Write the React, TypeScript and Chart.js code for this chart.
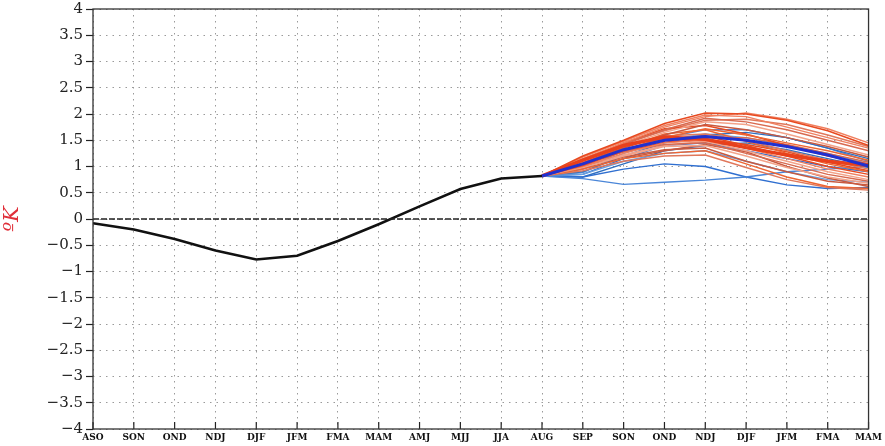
import React, { useEffect, useRef } from "react";
import { Chart, registerables } from "chart.js";

Chart.register(...registerables);

const categories = ["ASO", "SON", "OND", "NDJ", "DJF", "JFM", "FMA", "MAM", "AMJ", "MJJ", "JJA", "AUG", "SEP", "SON", "OND", "NDJ", "DJF", "JFM", "FMA", "MAM"];

const observed = [-0.08, -0.2, -0.38, -0.6, -0.77, -0.7, -0.42, -0.1, 0.24, 0.57, 0.77, 0.82];

// forecast members start at AUG (index 11): AUG..MAM
const forecastStart = 11;

const redMembers = [
  [0.82, 1.2, 1.5, 1.82, 2.02, 2.0, 1.88, 1.68, 1.4],
  [0.82, 1.15, 1.45, 1.75, 1.95, 2.02, 1.9, 1.72, 1.45],
  [0.82, 1.12, 1.42, 1.7, 1.92, 1.85, 1.7, 1.5, 1.3],
  [0.82, 1.1, 1.4, 1.65, 1.85, 1.8, 1.62, 1.42, 1.22],
  [0.82, 1.08, 1.35, 1.6, 1.8, 1.7, 1.55, 1.38, 1.18],
  [0.82, 1.05, 1.32, 1.55, 1.72, 1.6, 1.45, 1.3, 1.12],
  [0.82, 1.1, 1.38, 1.58, 1.62, 1.5, 1.3, 1.12, 0.95],
  [0.82, 1.02, 1.3, 1.52, 1.58, 1.4, 1.2, 1.0, 0.85],
  [0.82, 1.0, 1.25, 1.45, 1.5, 1.35, 1.15, 0.95, 0.8],
  [0.82, 1.05, 1.28, 1.42, 1.45, 1.25, 1.05, 0.85, 0.72],
  [0.82, 0.98, 1.2, 1.38, 1.4, 1.2, 0.98, 0.8, 0.68],
  [0.82, 1.0, 1.18, 1.32, 1.35, 1.1, 0.9, 0.72, 0.65],
  [0.82, 0.95, 1.15, 1.25, 1.3, 1.05, 0.8, 0.62, 0.58],
  [0.82, 0.92, 1.1, 1.2, 1.22, 0.98, 0.75, 0.6, 0.55],
  [0.82, 1.12, 1.45, 1.72, 1.78, 1.62, 1.4, 1.2, 1.05],
  [0.82, 1.18, 1.48, 1.78, 1.98, 1.95, 1.75, 1.55, 1.35],
  [0.82, 1.06, 1.3, 1.5, 1.55, 1.55, 1.42, 1.25, 1.08],
  [0.82, 1.02, 1.22, 1.4, 1.48, 1.3, 1.1, 0.9, 0.75],
  [0.82, 0.96, 1.15, 1.3, 1.42, 1.28, 1.0, 0.78, 0.62],
  [0.82, 1.08, 1.36, 1.62, 1.7, 1.48, 1.25, 1.05, 0.9],
  [0.82, 1.14, 1.44, 1.68, 1.88, 1.9, 1.8, 1.6, 1.38],
  [0.82, 1.04, 1.28, 1.46, 1.52, 1.42, 1.28, 1.08, 0.92],
];

const blueMembers = [
  [0.82, 0.77, 0.66, 0.7, 0.74, 0.8, 0.9, 0.95, 1.0],
  [0.82, 0.8, 0.95, 1.05, 1.0, 0.8, 0.65, 0.58, 0.6],
  [0.82, 0.85, 1.1, 1.25, 1.3, 1.1, 0.9, 0.75, 0.7],
  [0.82, 0.9, 1.2, 1.45, 1.6, 1.65, 1.55, 1.35, 1.15],
  [0.82, 0.95, 1.3, 1.55, 1.7, 1.7, 1.55, 1.35, 1.1],
  [0.82, 0.85, 1.15, 1.4, 1.45, 1.3, 1.15, 1.0, 0.9],
  [0.82, 0.88, 1.25, 1.5, 1.62, 1.55, 1.4, 1.25, 1.05],
  [0.82, 0.8, 1.05, 1.3, 1.4, 1.45, 1.32, 1.15, 0.98],
];

const redMean = [0.82, 1.12, 1.4, 1.56, 1.52, 1.36, 1.22, 1.1, 1.02];
const blueMean = [0.82, 1.05, 1.32, 1.5, 1.57, 1.5, 1.38, 1.22, 1.01];

const redColors = ["#e84a20", "#f08060", "#d86a50", "#f3a38a", "#c85a40", "#ee6633", "#e0785c"];
const blueColors = ["#4a86d8", "#2f6fd0", "#6aa0e0", "#3070c0"];

const yTicks = { min: -4, max: 4, step: 0.5 };

function pad(values: number[]): (number | null)[] {
  const out: (number | null)[] = categories.map(() => null);
  values.forEach((v, i) => {
    out[forecastStart + i] = v;
  });
  return out;
}

const framePlugin = {
  id: "frame",
  afterDatasetsDraw(chart: any) {
    const { ctx, chartArea } = chart;
    const x = chart.scales.x;
    const y = chart.scales.y;
    ctx.save();
    // zero line
    ctx.strokeStyle = "#222";
    ctx.lineWidth = 1.3;
    ctx.setLineDash([6, 2]);
    const y0 = y.getPixelForValue(0);
    ctx.beginPath();
    ctx.moveTo(chartArea.left, y0);
    ctx.lineTo(chartArea.right, y0);
    ctx.stroke();
    ctx.setLineDash([]);
    // inward x ticks
    ctx.lineWidth = 1.2;
    for (let i = 0; i < categories.length; i++) {
      const px = x.getPixelForValue(i);
      ctx.beginPath();
      ctx.moveTo(px, chartArea.bottom);
      ctx.lineTo(px, chartArea.bottom - 7);
      ctx.stroke();
    }
    // frame
    ctx.strokeStyle = "#333";
    ctx.lineWidth = 1.3;
    ctx.strokeRect(chartArea.left, chartArea.top, chartArea.right - chartArea.left, chartArea.bottom - chartArea.top);
    ctx.restore();
  },
};

export default function App() {
  const ref = useRef<HTMLCanvasElement | null>(null);
  useEffect(() => {
    document.body.style.margin = "0";
    if (!ref.current) return;
    const datasets: any[] = [];
    datasets.push({
      data: observed,
      borderColor: "#111",
      borderWidth: 2.6,
      pointRadius: 0,
      tension: 0,
    });
    datasets.push({
      data: pad(blueMean),
      borderColor: "#2030d0",
      borderWidth: 3,
      pointRadius: 0,
    });
    datasets.push({
      data: pad(redMean),
      borderColor: "#e8401c",
      borderWidth: 3.5,
      pointRadius: 0,
    });
    redMembers.forEach((m, i) => {
      datasets.push({
        data: pad(m),
        borderColor: redColors[i % redColors.length],
        borderWidth: 1.5,
        pointRadius: 0,
      });
    });
    blueMembers.forEach((m, i) => {
      datasets.push({
        data: pad(m),
        borderColor: blueColors[i % blueColors.length],
        borderWidth: 1.4,
        pointRadius: 0,
      });
    });

    const chart = new Chart(ref.current, {
      type: "line",
      data: { labels: categories, datasets },
      plugins: [framePlugin],
      options: {
        animation: false,
        responsive: false,
        maintainAspectRatio: false,
        layout: { padding: { left: 0, right: 13, top: 9, bottom: 0 } },
        plugins: { legend: { display: false }, tooltip: { enabled: false } },
        elements: { line: { tension: 0 } },
        scales: {
          x: {
            type: "category",
            offset: false,
            grid: { color: "#9a9a9a", lineWidth: 1, drawTicks: false },
            border: { display: false, dash: [1.5, 4.5] },
            ticks: {
              autoSkip: false,
              maxRotation: 0,
              padding: 3,
              color: "#111",
              font: { family: "DejaVu Serif", size: 9, weight: "bold" },
            },
            afterFit: (s: any) => {
              s.height = 17;
            },
          },
          y: {
            type: "linear",
            min: yTicks.min,
            max: yTicks.max,
            grid: { color: "#9a9a9a", lineWidth: 1, drawTicks: true, tickLength: 7, tickColor: "#222", tickWidth: 1.2 },
            border: { display: false, dash: [1.5, 5] },
            ticks: {
              stepSize: yTicks.step,
              padding: 3,
              color: "#222",
              font: { family: "DejaVu Serif", size: 15 },
              callback: (v: any) => (Number(v) < 0 ? "\u2212" + Math.abs(Number(v)) : String(v)),
            },
            title: {
              display: true,
              text: "\u00baK",
              color: "#e0303a",
              padding: { top: 0, bottom: 6 },
              font: { family: "DejaVu Serif", size: 21, style: "italic" },
            },
            afterFit: (s: any) => {
              s.width = 93;
              s.paddingTop = 0;
              s.paddingBottom = 0;
            },
          },
        },
      },
    });
    return () => chart.destroy();
  }, []);
  return (
    <div style={{ width: 885, height: 446 }}>
      <canvas ref={ref} width={885} height={446} style={{ display: "block" }} />
    </div>
  );
}
